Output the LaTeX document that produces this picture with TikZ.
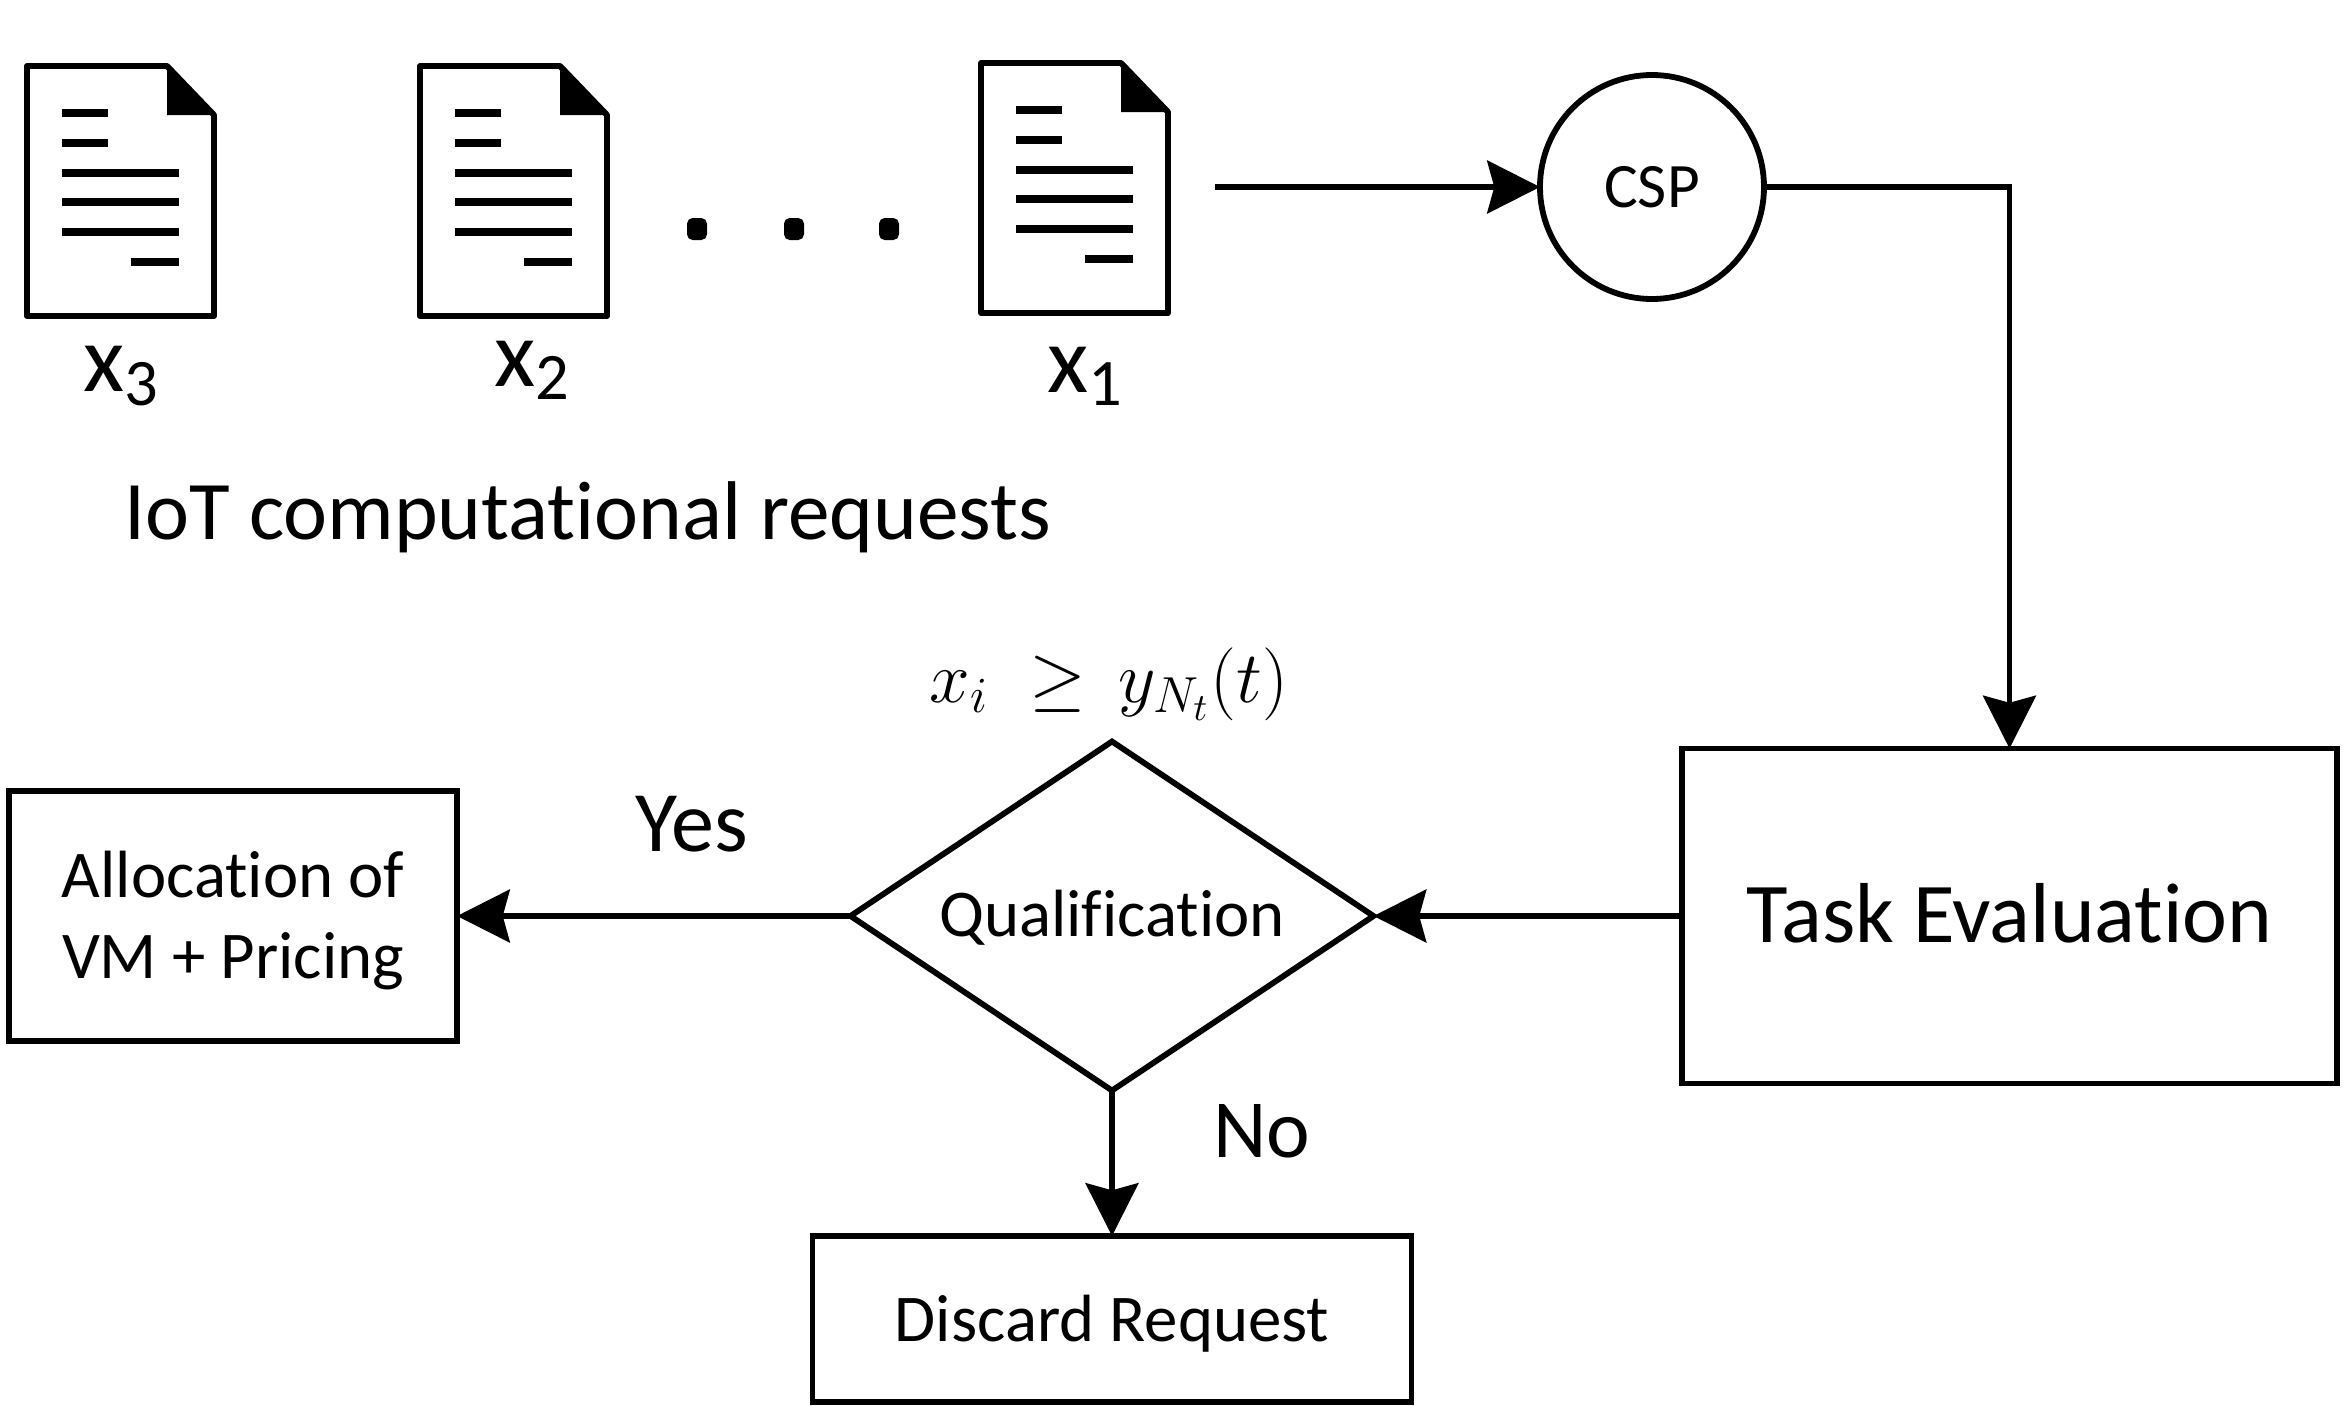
\documentclass[tikz,border=0pt]{standalone}
\usepackage{amsmath}
\usepackage{fontspec}
\setmainfont[Ligatures=NoCommon]{Carlito}
\usetikzlibrary{arrows.meta,calc,positioning,shapes.geometric}
\newcommand{\padtext}[3]{\raisebox{0pt}[\dimexpr\height+#1\relax][\dimexpr\depth+#2\relax]{#3}}
\tikzset{
  flowbox/.style={draw,line width=1.65pt,inner sep=0pt,outer sep=0pt,align=center},
  flowline/.style={line width=1.65pt,-{Stealth[length=15pt,width=15pt,inset=2pt]}},
  docsheet/.pic={
    \fill (140,2)--(187,49)--(140,49)--cycle;
    \draw[line width=1.7pt,line join=round] (0,0)--(140,0)--(187,49)--(187,250)--(0,250)--cycle;
    \foreach \y in {47,77} \draw[line width=2.2pt] (35,\y)--(81,\y);
    \foreach \y in {107,136,166} \draw[line width=2.2pt] (35,\y)--(152,\y);
    \draw[line width=2.2pt] (104,196)--(152,196);
  }
}
\begin{document}
\begin{tikzpicture}[x=0.01cm,y=-0.01cm,>=Stealth]
\useasboundingbox (0,0) rectangle (2344,1406);
% request sheets
\pic at (27,66) {docsheet};
\pic at (420,66) {docsheet};
\pic at (981,63) {docsheet};
\foreach \px/\py in {697/229,794/229,889/229} \fill[rounded corners=1.6pt] (\px-10,\py-11) rectangle (\px+10,\py+11);
\node[font=\fontsize{27}{30}\selectfont] (x3) at (122,376) {x\textsubscript{3}};
\node[font=\fontsize{27}{30}\selectfont] (x2) at (533,370) {x\textsubscript{2}};
\node[font=\fontsize{27}{30}\selectfont] (x1) at (1086,376) {x\textsubscript{1}};
\node[font=\fontsize{23.7}{28}\selectfont] (reqs) at (588,517) {IoT computational requests};
% flow
\coordinate (start) at (1215,187);
\node[flowbox,circle,minimum size=224*0.01cm,font=\fontsize{18}{22}\selectfont] (csp) at (1652,187) {CSP};
\node[flowbox,minimum width=655*0.01cm,minimum height=335*0.01cm,font=\fontsize{24.2}{30}\selectfont] (task) at (2009.5,916) {\padtext{0cm}{0.06cm}{Task Evaluation}};
\node[flowbox,diamond,aspect=1.5,minimum width=523*0.01cm,minimum height=349*0.01cm,font=\fontsize{19}{23}\selectfont] (qual) at (1112,916) {\padtext{0.04cm}{0cm}{Qualification}};
\node[flowbox,minimum width=448*0.01cm,minimum height=250*0.01cm,font=\fontsize{19}{23}\selectfont] (alloc) at (233,916) {\padtext{0.12cm}{0cm}{\begin{tabular}{@{}c@{}}Allocation of\\VM + Pricing\end{tabular}}};
\node[flowbox,minimum width=599*0.01cm,minimum height=166*0.01cm,font=\fontsize{19}{23}\selectfont] (disc) at (1112,1319) {\padtext{0.09cm}{0cm}{Discard Request}};
\node[font=\fontsize{22}{26}\selectfont] (cond) at (1109,684) {$x_i\;\geq\,y_{N_t}(t)$};
\node[font=\fontsize{24.5}{29}\selectfont] (yes) at (692,824) {Yes};
\node[font=\fontsize{23.5}{28}\selectfont] (no) at (1262,1131) {No};
\draw[flowline] (start)--(csp);
\draw[flowline] (csp.east)-|(task.north);
\draw[flowline] (task)--(qual);
\draw[flowline] (qual)--(alloc);
\draw[flowline] (qual)--(disc);
\end{tikzpicture}
\end{document}
